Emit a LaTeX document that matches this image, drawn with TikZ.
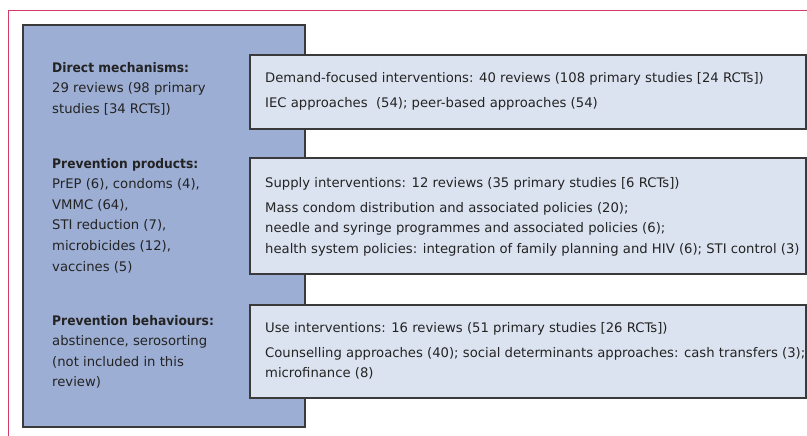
\documentclass[tikz,border=0pt]{standalone}
\usepackage{fontspec}
\setmainfont{DejaVu Sans}
\newfontfamily\hdfont{DejaVu Sans}[FakeStretch=0.93]
\definecolor{pinkline}{HTML}{D43A68}
\definecolor{bluebox}{HTML}{9DAED4}
\definecolor{lightbox}{HTML}{DCE3F0}
\definecolor{edge}{HTML}{3A3A3A}
\definecolor{txt}{HTML}{232323}
\newcommand{\hdtext}[1]{{\hdfont\bfseries #1}}
\begin{document}
\begin{tikzpicture}[x=1pt,y=-1pt,
  bigbox/.style={draw=edge,fill=bluebox,line width=1.3pt},
  smallbox/.style={draw=edge,fill=lightbox,line width=1.3pt},
  frameline/.style={draw=pinkline,line width=0.9pt},
  lefttext/.style={anchor=base west,inner sep=0pt,align=left,text=txt,font=\fontsize{13.2}{20.6}\selectfont},
  righttext/.style={anchor=base west,inner sep=0pt,align=left,text=txt,font=\fontsize{13.2}{20.6}\selectfont}]
\useasboundingbox (0,0) rectangle (807,436);
\draw[frameline] (807,10) -- (8,10) -- (8,436);
\path[bigbox] (23,25) rectangle (305,427);
\path[smallbox] (250,55) rectangle (806,129);
\path[smallbox] (250,158) rectangle (806,274);
\path[smallbox] (250,305) rectangle (806,398);
% multi-line nodes: base anchor = last line's baseline
\node[lefttext] (dm) at (52,113.2) {\hdtext{Direct mechanisms:}\\29 reviews (98 primary\\studies [34 RCTs])};
\node[lefttext] (pp) at (52,271) {\hdtext{Prevention products:}\\PrEP (6), condoms (4),\\VMMC (64),\\STI reduction (7),\\microbicides (12),\\vaccines (5)};
\node[lefttext] (pb) at (52,386.8) {\hdtext{Prevention behaviours:}\\abstinence, serosorting\\(not included in this\\review)};
\node[righttext] (d1) at (265,83) {Demand-focused interventions: 40 reviews (108 primary studies [24 RCTs])};
\node[righttext] (d2) at (265,108) {IEC approaches\ \ (54); peer-based approaches (54)};
\node[righttext] (s1) at (265,187) {Supply interventions: 12 reviews (35 primary studies [6 RCTs])};
\node[righttext] (s2) at (265,253.2) {Mass condom distribution and associated policies (20);\\needle and syringe programmes and associated policies (6);\\health system policies: integration of family planning and HIV (6); STI control (3)};
\node[righttext] (u1) at (265,332) {Use interventions: 16 reviews (51 primary studies [26 RCTs])};
\node[righttext] (u2) at (265,377.6) {Counselling approaches (40); social determinants approaches: cash transfers (3);\\microfinance (8)};
\end{tikzpicture}
\end{document}
